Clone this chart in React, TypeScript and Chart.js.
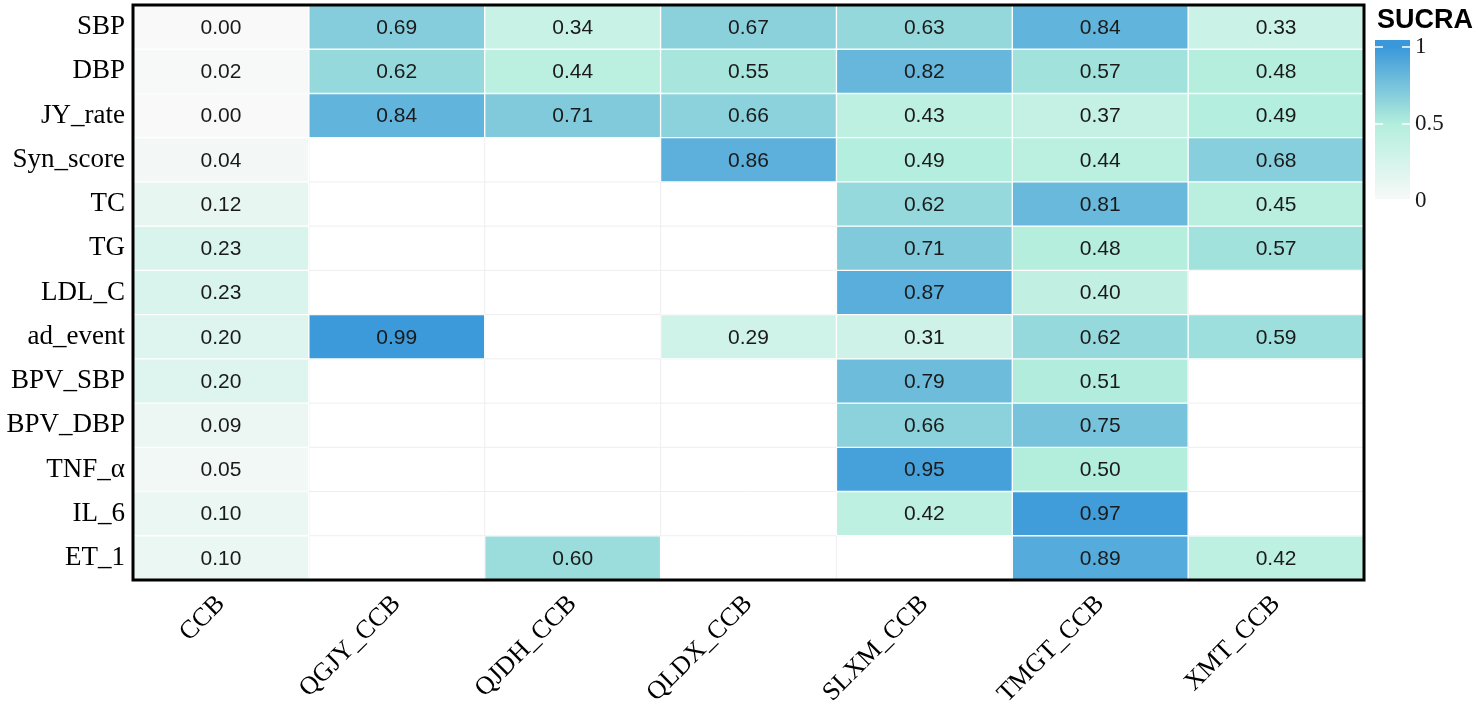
import React, { useEffect, useRef } from "react";
import { Chart, registerables } from "chart.js";

Chart.register(...registerables);

const rowLabels = ["SBP", "DBP", "JY_rate", "Syn_score", "TC", "TG", "LDL_C", "ad_event", "BPV_SBP", "BPV_DBP", "TNF_α", "IL_6", "ET_1"];
const colLabels = ["CCB", "QGJY_CCB", "QJDH_CCB", "QLDX_CCB", "SLXM_CCB", "TMGT_CCB", "XMT_CCB"];

// SUCRA values per column, rows in rowLabels order (null = not reported)
const ccb = [0.0, 0.02, 0.0, 0.04, 0.12, 0.23, 0.23, 0.2, 0.2, 0.09, 0.05, 0.1, 0.1];
const qgjy = [0.69, 0.62, 0.84, null, null, null, null, 0.99, null, null, null, null, null];
const qjdh = [0.34, 0.44, 0.71, null, null, null, null, null, null, null, null, null, 0.6];
const qldx = [0.67, 0.55, 0.66, 0.86, null, null, null, 0.29, null, null, null, null, null];
const slxm = [0.63, 0.82, 0.43, 0.49, 0.62, 0.71, 0.87, 0.31, 0.79, 0.66, 0.95, 0.42, null];
const tmgt = [0.84, 0.57, 0.37, 0.44, 0.81, 0.48, 0.4, 0.62, 0.51, 0.75, 0.5, 0.97, 0.89];
const xmt = [0.33, 0.48, 0.49, 0.68, 0.45, 0.57, null, 0.59, null, null, null, null, 0.42];

const columns: (number | null)[][] = [ccb, qgjy, qjdh, qldx, slxm, tmgt, xmt];

const legendTitle = "SUCRA";
const legendTicks = [1, 0.5, 0];

const stops: [number, [number, number, number]][] = [
  [0, [249, 249, 249]],
  [0.5, [179, 238, 221]],
  [1, [58, 152, 218]],
];

function colorFor(v: number): string {
  const t = Math.max(0, Math.min(1, v));
  for (let i = 0; i < stops.length - 1; i++) {
    const [a, ca] = stops[i];
    const [b, cb] = stops[i + 1];
    if (t >= a && t <= b) {
      const f = (t - a) / (b - a);
      const c = ca.map((x, k) => Math.round(x + (cb[k] - x) * f));
      return `rgb(${c[0]},${c[1]},${c[2]})`;
    }
  }
  return "rgb(58,152,218)";
}

const serif = "'Liberation Serif', 'Times New Roman', serif";
const sans = "'Liberation Sans', Arial, sans-serif";

export default function App() {
  const ref = useRef<HTMLCanvasElement | null>(null);

  useEffect(() => {
    document.body.style.margin = "0";
    if (!ref.current) return;

    const datasets = rowLabels.map((_, r) => ({
      label: rowLabels[r],
      data: columns.map((col) => (col[r] == null ? null : [r, r + 1])) as any,
      backgroundColor: columns.map((col) => (col[r] == null ? "rgba(0,0,0,0)" : colorFor(col[r] as number))),
      borderColor: "#ffffff",
      borderWidth: 1,
      borderSkipped: false,
      barPercentage: 1,
      categoryPercentage: 1,
      grouped: false,
    }));

    const heatPlugin = {
      id: "heatExtras",
      beforeDatasetsDraw(chart: any) {
        const { ctx, chartArea, scales } = chart;
        ctx.save();
        ctx.strokeStyle = "#eeeeee";
        ctx.lineWidth = 1;
        for (let i = 1; i < rowLabels.length; i++) {
          const y = scales.y.getPixelForValue(i);
          ctx.beginPath();
          ctx.moveTo(chartArea.left, y);
          ctx.lineTo(chartArea.right, y);
          ctx.stroke();
        }
        for (let j = 1; j < colLabels.length; j++) {
          const x = (scales.x.getPixelForValue(j - 1) + scales.x.getPixelForValue(j)) / 2;
          ctx.beginPath();
          ctx.moveTo(x, chartArea.top);
          ctx.lineTo(x, chartArea.bottom);
          ctx.stroke();
        }
        ctx.restore();
      },
      afterDatasetsDraw(chart: any) {
        const { ctx } = chart;
        ctx.save();
        ctx.font = `21px ${sans}`;
        ctx.fillStyle = "#1a1a1a";
        ctx.textAlign = "center";
        ctx.textBaseline = "middle";
        rowLabels.forEach((_, r) => {
          const meta = chart.getDatasetMeta(r);
          meta.data.forEach((el: any, c: number) => {
            const v = columns[c][r];
            if (v == null) return;
            const cy = (el.y + el.base) / 2;
            ctx.fillText(v.toFixed(2), el.x, cy + 1);
          });
        });
        ctx.restore();
      },
      afterDraw(chart: any) {
        const { ctx, chartArea } = chart;
        ctx.save();
        // frame
        ctx.strokeStyle = "#000000";
        ctx.lineWidth = 3;
        ctx.strokeRect(chartArea.left, chartArea.top, chartArea.right - chartArea.left, chartArea.bottom - chartArea.top);

        // colour bar legend
        const bx = 1375;
        const bw = 35;
        const yTop = 40;
        const yBot = 199;
        const y1 = 47;
        const y0 = 201;
        const grad = ctx.createLinearGradient(0, y0, 0, y1);
        grad.addColorStop(0, colorFor(0));
        grad.addColorStop(0.25, colorFor(0.25));
        grad.addColorStop(0.5, colorFor(0.5));
        grad.addColorStop(0.75, colorFor(0.75));
        grad.addColorStop(1, colorFor(1));
        ctx.fillStyle = grad;
        ctx.fillRect(bx, yTop, bw, yBot - yTop);

        ctx.strokeStyle = "#ffffff";
        ctx.lineWidth = 1.5;
        legendTicks.forEach((v) => {
          const y = y0 - (y0 - y1) * v;
          if (y > yBot) return;
          ctx.beginPath();
          ctx.moveTo(bx, y);
          ctx.lineTo(bx + 8, y);
          ctx.moveTo(bx + bw - 8, y);
          ctx.lineTo(bx + bw, y);
          ctx.stroke();
        });

        ctx.fillStyle = "#1a1a1a";
        ctx.font = `23px ${serif}`;
        ctx.textAlign = "left";
        ctx.textBaseline = "middle";
        legendTicks.forEach((v) => {
          const y = y0 - (y0 - y1) * v;
          ctx.fillText(String(v), bx + bw + 5, y);
        });

        ctx.fillStyle = "#000000";
        ctx.font = `bold 27px ${sans}`;
        ctx.textBaseline = "alphabetic";
        ctx.fillText(legendTitle, 1377, 28);
        ctx.restore();
      },
    };

    const chart = new Chart(ref.current, {
      type: "bar",
      data: { labels: colLabels, datasets },
      plugins: [heatPlugin],
      options: {
        animation: false,
        responsive: true,
        maintainAspectRatio: false,
        layout: { padding: { left: 0, right: 116, top: 5, bottom: 0 } },
        plugins: { legend: { display: false }, tooltip: { enabled: false } },
        scales: {
          x: {
            type: "category",
            offset: true,
            grid: { display: false },
            border: { display: false },
            ticks: {
              maxRotation: 45,
              minRotation: 45,
              autoSkip: false,
              padding: 1,
              color: "#000000",
              font: { family: serif, size: 26 },
            },
            afterFit: (s: any) => {
              s.height = 127;
              s.paddingLeft = 0;
              s.paddingRight = 0;
            },
          },
          y: {
            type: "linear",
            min: 0,
            max: 13,
            reverse: true,
            grid: { display: false },
            border: { display: false },
            afterBuildTicks: (s: any) => {
              s.ticks = rowLabels.map((_, i) => ({ value: i + 0.5 }));
            },
            ticks: {
              autoSkip: false,
              padding: 0,
              color: "#000000",
              font: { family: serif, size: 27 },
              callback: (v: any) => rowLabels[Math.floor(Number(v))] ?? "",
            },
            afterFit: (s: any) => {
              s.width = 133;
              s.paddingTop = 0;
              s.paddingBottom = 0;
            },
          },
        },
      },
    });

    return () => chart.destroy();
  }, []);

  return (
    <div style={{ width: 1480, height: 707, position: "relative" }}>
      <canvas ref={ref} />
    </div>
  );
}
